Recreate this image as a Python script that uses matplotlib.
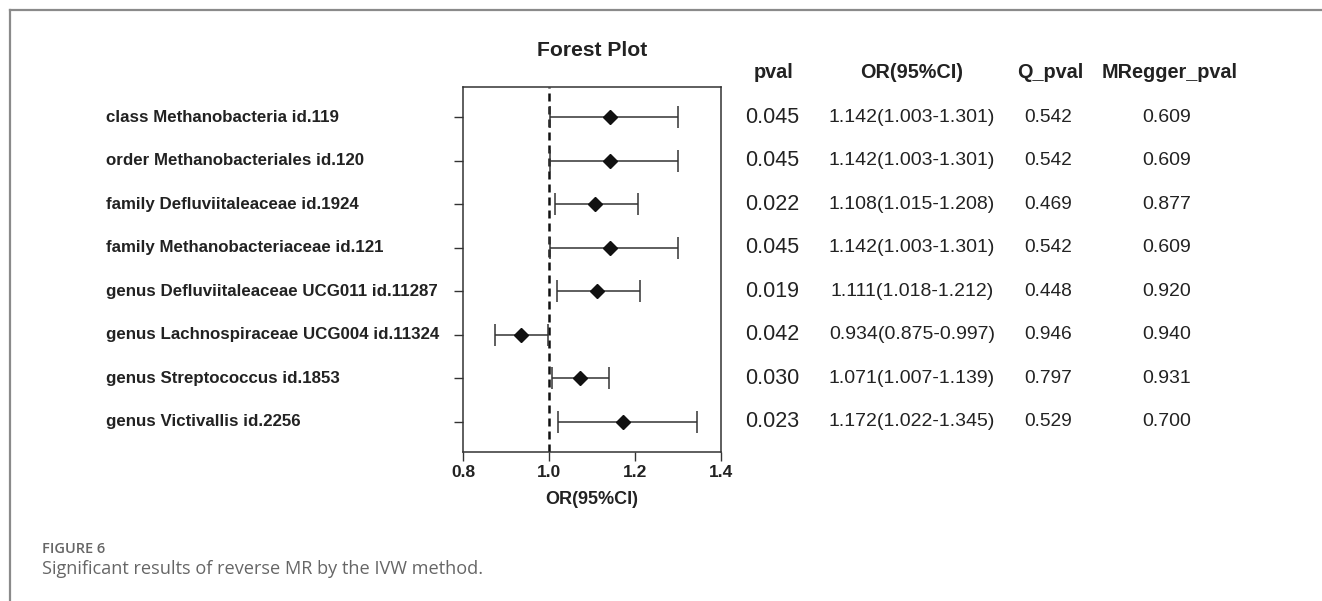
import matplotlib
matplotlib.use("Agg")
import matplotlib.pyplot as plt
import matplotlib.transforms as mtransforms
from matplotlib.lines import Line2D

# data
labels = ["class Methanobacteria id.119",
          "order Methanobacteriales id.120",
          "family Defluviitaleaceae id.1924",
          "family Methanobacteriaceae id.121",
          "genus Defluviitaleaceae UCG011 id.11287",
          "genus Lachnospiraceae UCG004 id.11324",
          "genus Streptococcus id.1853",
          "genus Victivallis id.2256"]
or_val = [1.142, 1.142, 1.108, 1.142, 1.111, 0.934, 1.071, 1.172]
ci_low = [1.003, 1.003, 1.015, 1.003, 1.018, 0.875, 1.007, 1.022]
ci_high = [1.301, 1.301, 1.208, 1.301, 1.212, 0.997, 1.139, 1.345]
pval = [0.045, 0.045, 0.022, 0.045, 0.019, 0.042, 0.030, 0.023]
q_pval = [0.542, 0.542, 0.469, 0.542, 0.448, 0.946, 0.797, 0.529]
egger_pval = [0.609, 0.609, 0.877, 0.609, 0.920, 0.940, 0.931, 0.700]
xticks = [0.8, 1.0, 1.2, 1.4]

W, H = 1322, 601
fig = plt.figure(figsize=(W / 100, H / 100), dpi=100)
plt.rcParams['font.family'] = ['Liberation Sans', 'DejaVu Sans']

def fx(px):
    return px / W

def fy(py):
    return 1 - py / H

# axes box in pixel terms: x 463..721, y 87..452
ax = fig.add_axes([fx(463), fy(452), fx(721) - fx(463), (452 - 87) / H])

n = len(labels)
ypos = list(range(n, 0, -1))
xerr = [[o - l for o, l in zip(or_val, ci_low)],
        [h - o for o, h in zip(or_val, ci_high)]]

ax.errorbar(or_val, ypos, xerr=xerr, fmt='none', ecolor='#333333',
            elinewidth=1.1, capsize=8, capthick=1.1, zorder=2)
ax.plot(or_val, ypos, 'D', color='#111111', markersize=6.8, zorder=3)
ax.axvline(1.0, color='#111111', lw=1.8, linestyle=(0, (3.2, 2.0)), zorder=1)

ax.set_xlim(0.8, 1.4)
ax.set_ylim(0.31, n + 0.69)
ax.set_xticks(xticks)
ax.set_xticklabels(["%.1f" % t for t in xticks], fontsize=12.5,
                   fontweight='bold', color='#222222')
ax.set_yticks(ypos)
ax.set_yticklabels([])
ax.tick_params(axis='both', direction='out', length=6.5, width=1.0,
               color='#333333', pad=3)
for sp in ax.spines.values():
    sp.set_linewidth(1.1)
    sp.set_color('#333333')

fig.text(fx(592), fy(500), "OR(95%CI)", ha='center', va='center',
         fontsize=13, fontweight='bold', color='#222222')
fig.text(fx(592), fy(51), "Forest Plot", ha='center', va='center',
         fontsize=15.2, fontweight='bold', color='#222222')

# row labels and table columns share the data y-axis
trans = mtransforms.blended_transform_factory(fig.transFigure, ax.transData)
for y, lab in zip(ypos, labels):
    fig.text(fx(106), y, lab, transform=trans, ha='left', va='center',
             fontsize=12.15, fontweight='bold', color='#222222')

headers = ["pval", "OR(95%CI)", "Q_pval", "MRegger_pval"]
head_x = [774, 912, 1050, 1170]
for hx, h in zip(head_x, headers):
    fig.text(fx(hx), fy(72), h, ha='center', va='center', fontsize=14.3,
             fontweight='bold', color='#222222')

for i, y in enumerate(ypos):
    fig.text(fx(772), y, "%.3f" % pval[i], transform=trans, ha='center',
             va='center', fontsize=15.5, color='#222222')
    fig.text(fx(912), y, "%.3f(%.3f-%.3f)" % (or_val[i], ci_low[i], ci_high[i]),
             transform=trans, ha='center', va='center', fontsize=14,
             color='#222222')
    fig.text(fx(1048), y, "%.3f" % q_pval[i], transform=trans, ha='center',
             va='center', fontsize=13.8, color='#222222')
    fig.text(fx(1167), y, "%.3f" % egger_pval[i], transform=trans,
             ha='center', va='center', fontsize=14, color='#222222')

# caption and frame
fig.text(fx(42), fy(549), "FIGURE 6", ha='left', va='center', fontsize=10.5,
         fontweight='semibold', family=['Open Sans', 'DejaVu Sans'],
         color='#666666')
fig.text(fx(42), fy(569), "Significant results of reverse MR by the IVW method.",
         ha='left', va='center', fontsize=13.1,
         family=['Open Sans', 'DejaVu Sans'], color='#666666')
fig.add_artist(Line2D([fx(9.5), 1], [fy(9.5), fy(9.5)], transform=fig.transFigure,
                      color='#8a8a8a', lw=1.6))
fig.add_artist(Line2D([fx(9.5), fx(9.5)], [fy(9.5), 0], transform=fig.transFigure,
                      color='#8a8a8a', lw=1.6))

fig.savefig("out.png", dpi=100)
